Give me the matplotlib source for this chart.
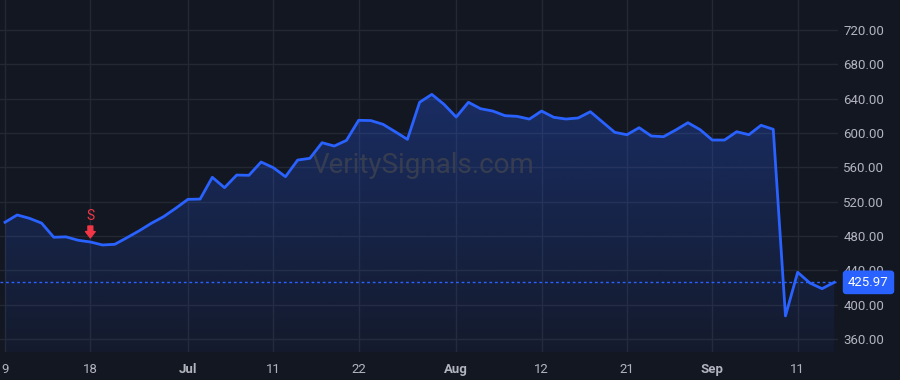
import numpy as np
import matplotlib
matplotlib.use('Agg')
import matplotlib.pyplot as plt
from matplotlib.patches import Polygon

# closing prices, one per trading session
prices = [496, 504.5, 500.6, 495, 478.5, 479, 475, 473, 469.5, 470.3,
          478, 486, 494.8, 502.5, 512.3, 522.7, 523, 548.4, 536.3, 551,
          550.7, 566.2, 559.6, 549.1, 568.5, 570.5, 588.7, 584.8, 591.4, 614.8,
          614.5, 610.1, 601.5, 592.6, 635.8, 645, 633.4, 618.6, 635.8, 628.3,
          625.6, 620.2, 619.4, 616.2, 625.6, 618.3, 616.3, 617.5, 624.8, 612.8,
          600.8, 598, 606.2, 596.5, 595.7, 603.5, 612, 603.9, 591.8, 591.8,
          601.5, 598, 609, 604.3, 386.8, 437.7, 425.2, 418.6, 425.97]
tick_pos = [0, 7, 15, 22, 29, 37, 44, 51, 58, 65]
tick_labels = ['9', '18', 'Jul', '11', '22', 'Aug', '12', '21', 'Sep', '11']
month_ticks = ['Jul', 'Aug', 'Sep']
y_ticks = [360, 400, 440, 480, 520, 560, 600, 640, 680, 720]
signal_idx = 7
signal_text = 'S'
last_price = prices[-1]

bg = '#131722'
grid = '#242832'
txt = '#b2b5be'
blue = '#2962ff'

plt.rcParams['font.family'] = ['Roboto', 'DejaVu Sans']

fig = plt.figure(figsize=(9, 3.8), dpi=100, facecolor=bg)
ax = fig.add_axes([0, 0.0737, 0.931, 0.9263], facecolor=bg)

x = np.arange(len(prices))
ax.set_xlim(-0.41, 68.3)
ax.set_ylim(344.8, 755)

# gradient fill under the line
verts = [(x[0], 344.8)] + list(zip(x, prices)) + [(x[-1], 344.8)]
poly = Polygon(verts, closed=True, facecolor='none', edgecolor='none')
ax.add_patch(poly)
grad = np.zeros((100, 1, 4))
grad[:, 0, 0] = 41 / 255
grad[:, 0, 1] = 98 / 255
grad[:, 0, 2] = 1.0
grad[:, 0, 3] = np.linspace(0.3, 0.05, 100)
im = ax.imshow(grad, extent=[x[0], x[-1], 344.8, 650], aspect='auto',
               origin='upper', zorder=1)
im.set_clip_path(poly)

ax.plot(x, prices, color=blue, lw=2, zorder=3, solid_joinstyle='round')

# last price dotted line and label
ax.axhline(last_price, color=blue, lw=1, linestyle=(0, (2, 2)), zorder=2)
ax.text(1.0365, last_price, f'{last_price:.2f}', transform=ax.get_yaxis_transform(),
        color='white', fontsize=9.5, va='center', ha='center', clip_on=False,
        zorder=5, bbox=dict(boxstyle='round,pad=0.3,rounding_size=0.15',
                            fc=blue, ec=blue, lw=2))

# sell signal
ax.annotate('', xy=(signal_idx, prices[signal_idx]), xytext=(0, 11.5),
            textcoords='offset points', xycoords='data',
            arrowprops=dict(arrowstyle='simple,head_width=0.7,head_length=0.45,tail_width=0.35',
                            color='#f23645', shrinkA=0, shrinkB=3), zorder=4)
ax.annotate(signal_text, xy=(signal_idx, prices[signal_idx]), xytext=(0, 14),
            textcoords='offset points', ha='center', va='bottom',
            color='#f23645', fontsize=10)

# watermark
ax.text(0.505, 0.53, 'VeritySignals.com', transform=ax.transAxes, ha='center',
        va='center', fontsize=20, color='#3b4050', alpha=0.9, zorder=2)

ax.set_xticks(tick_pos)
ax.set_xticklabels(tick_labels)
for lab in ax.get_xticklabels():
    if lab.get_text() in month_ticks:
        lab.set_fontweight('bold')
ax.set_yticks(y_ticks)
ax.set_yticklabels([f'{v:.2f}' for v in y_ticks])
ax.yaxis.tick_right()
ax.tick_params(axis='both', length=0, colors=txt, labelsize=9.5)
ax.tick_params(axis='x', pad=8)
ax.tick_params(axis='y', pad=4)
ax.grid(True, color=grid, lw=1)
ax.set_axisbelow(True)
for s in ax.spines.values():
    s.set_visible(False)

fig.savefig('out.png', dpi=100, facecolor=bg)
